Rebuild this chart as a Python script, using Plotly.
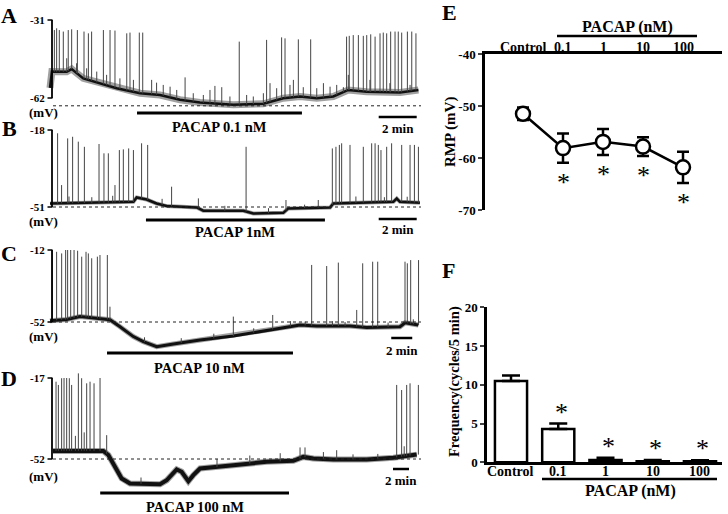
import numpy as np
import plotly.graph_objects as go

W, H = 728, 514
SERIF = "Liberation Serif"

# ---- current-clamp traces: time (min), membrane potential (mV) ----
# A: PACAP 0.1 nM
a_base_t = [0.0, 0.1, 0.88, 1.14, 1.75, 2.63, 3.51, 4.74, 5.79, 6.84, 7.89, 9.65, 11.23,
            12.28, 13.16, 14.04, 14.91, 15.70, 16.67, 18.42, 19.39]
a_base_v = [-58.0, -51.5, -51.6, -50.5, -54.2, -56.1, -58.1, -60.1, -60.8, -62.7, -63.8, -64.7,
            -64.3, -62.1, -61.4, -62.1, -61.4, -58.8, -59.5, -59.8, -58.8]
a_spike_t = [0.23, 0.35, 0.49, 0.70, 0.96, 1.14, 1.44, 1.79, 2.02, 2.19, 2.81, 3.16, 3.42, 4.04,
             4.21, 4.70, 4.88, 7.11, 8.68, 9.04, 9.96, 11.40, 12.19, 12.37, 13.07, 13.72, 15.61,
             15.75, 15.96, 16.23, 16.49, 16.67, 16.88, 17.11, 17.37, 17.54, 17.72, 17.93, 18.16,
             18.33, 18.51, 18.81, 19.04, 19.26]
a_spike_v = [-35.0, -34.3, -35.0, -35.6, -35.0, -34.7, -35.0, -35.6, -36.3, -35.6, -35.0, -35.0,
             -35.2, -36.3, -36.0, -36.0, -36.0, -53.8, -57.2, -57.7, -39.6, -38.9, -37.9, -38.3,
             -38.7, -38.7, -37.6, -37.3, -37.0, -37.0, -37.3, -37.0, -36.7, -37.6, -36.3, -36.0,
             -36.3, -35.6, -35.6, -35.6, -36.0, -35.6, -35.6, -36.3]
# small sub-threshold deflections
a_minor_t = [0.88, 1.40, 1.93, 2.46, 2.98, 3.68, 4.39, 5.35, 5.61, 5.96, 6.32, 6.67, 7.54, 8.07,
             8.42, 9.47, 10.35, 10.70, 11.23, 11.58, 11.93, 12.63, 12.81, 13.33, 14.04, 14.39,
             14.74, 15.09, 15.44, 15.70, 16.84, 17.89, 18.95]
a_minor_v = [-46.2, -48.2, -50.2, -51.5, -52.8, -54.2, -54.8, -54.8, -55.9, -56.8, -57.5, -58.8,
             -60.1, -60.8, -58.8, -61.4, -60.8, -61.4, -60.1, -56.1, -58.1, -56.8, -54.8, -57.7,
             -58.1, -56.1, -57.5, -56.8, -57.7, -52.8, -54.8, -56.1, -56.8]
a_scale = [-31, -62]
a_ref = -65.1
a_pacap = [4.58, 13.26]
a_bar = [17.3, 19.3]

# B: PACAP 1 nM
b_base_t = [0.0, 2.63, 4.39, 4.56, 5.09, 5.61, 6.14, 7.72, 8.07, 10.18, 10.70, 12.28, 12.54,
            14.74, 14.91, 18.07, 18.25, 18.42, 19.47]
b_base_v = [-49.5, -49.2, -48.8, -46.9, -47.8, -49.5, -50.6, -51.2, -52.6, -52.6, -53.8, -53.5,
            -51.6, -51.2, -49.5, -48.8, -47.4, -48.8, -49.2]
b_spike_t = [0.40, 0.61, 0.93, 1.19, 1.49, 1.81, 2.58, 2.84, 3.07, 3.42, 3.65, 3.86, 4.14, 4.39,
             4.82, 5.14, 6.40, 7.81, 10.32, 12.42, 14.12, 14.86, 15.05, 15.23, 15.35, 15.79,
             16.49, 16.93, 17.11, 17.28, 17.42, 17.72, 17.98, 18.51, 18.95, 19.18, 19.39]
b_spike_v = [-19.4, -41.6, -21.6, -20.9, -23.0, -25.2, -24.0, -28.0, -28.0, -41.6, -26.6, -26.3,
             -25.9, -26.6, -23.7, -24.4, -42.3, -47.3, -25.2, -48.0, -48.0, -25.9, -25.2, -24.4,
             -23.7, -24.4, -25.2, -23.7, -23.7, -24.4, -26.6, -25.2, -23.7, -24.4, -24.4, -24.4,
             -25.2]
b_minor_t = [1.0, 2.2, 3.3, 5.9, 9.2, 11.5, 13.4, 16.1, 17.6, 18.8]
b_minor_v = [-46.5, -46.8, -46.2, -47.5, -50.5, -51.5, -50.0, -46.5, -46.8, -46.6]
b_scale = [-18, -51]
b_ref = -51
b_pacap = [5.05, 14.47]
b_bar = [17.3, 19.3]

# C: PACAP 10 nM
c_base_t = [0.0, 1.59, 2.86, 4.44, 5.71, 6.67, 7.94, 8.89, 10.16, 11.75, 14.29, 17.46, 20.63,
            22.22, 23.81, 25.40, 28.57, 30.16, 33.33, 33.81, 35.08]
c_base_v = [-51.3, -50.6, -49.0, -49.9, -50.7, -54.6, -60.1, -62.9, -65.7, -64.2, -62.0, -59.8,
            -56.8, -55.0, -53.7, -54.2, -54.2, -55.0, -54.6, -52.4, -53.7]
c_spike_t = [0.22, 0.63, 1.11, 1.49, 1.68, 1.97, 2.29, 2.63, 3.02, 3.43, 3.65, 3.97, 4.51, 4.76,
             5.46, 5.71, 17.46, 21.21, 24.92, 26.35, 27.46, 29.21, 29.78, 30.73, 31.21, 33.81,
             34.03, 34.35, 35.10]
c_spike_v = [-12.4, -13.0, -13.9, -12.0, -12.0, -12.0, -12.0, -12.4, -15.7, -13.0, -13.9, -16.6,
             -15.7, -14.8, -14.8, -43.5, -49.0, -48.1, -20.3, -20.9, -19.0, -45.3, -19.4, -18.5,
             -18.5, -18.5, -19.4, -17.6, -17.6]
c_minor_t = [9.0, 12.5, 15.6, 19.4, 22.9, 24.3, 26.9, 28.1, 32.2, 34.6]
c_minor_v = [-60.5, -61.0, -58.5, -55.5, -51.5, -51.8, -51.5, -52.0, -52.3, -50.5]
c_scale = [-12, -52]
c_ref = -52
c_pacap = [5.43, 23.14]
c_bar = [32.5, 34.5]

# D: PACAP 100 nM
d_base_t = [0.0, 6.29, 6.92, 7.75, 8.58, 9.63, 13.38, 14.21, 15.46, 16.08, 16.92, 17.54, 18.38,
            22.54, 26.71, 30.04, 31.29, 32.54, 35.04, 39.21, 42.54, 45.46]
d_base_v = [-48.5, -48.5, -50.3, -55.4, -60.4, -62.6, -62.9, -61.2, -56.5, -57.5, -61.6, -59.0,
            -56.1, -54.7, -53.2, -52.8, -51.1, -51.8, -52.2, -52.2, -51.5, -50.1]
d_spike_t = [0.38, 0.67, 1.08, 1.38, 1.71, 2.04, 2.33, 3.17, 3.58, 4.21, 4.63, 5.13, 5.88, 6.71,
             30.88, 31.50, 35.46, 42.96, 43.58, 44.21, 44.63, 45.67]
d_spike_v = [-18.6, -20.0, -17.1, -17.0, -17.0, -17.1, -20.0, -15.0, -17.1, -19.3, -18.6, -19.3,
             -17.0, -41.7, -47.0, -47.0, -48.2, -20.0, -22.2, -20.0, -19.3, -20.0]
d_minor_t = [2.8, 3.9, 11.0, 20.5, 24.6, 28.4, 33.8, 37.5, 40.6, 43.9]
d_minor_v = [-42.0, -40.5, -60.0, -52.0, -50.5, -49.5, -49.0, -50.0, -49.8, -46.5]
d_scale = [-17, -52]
d_ref = -52
d_pacap = [5.9, 29.5]
d_bar = [42.5, 44.5]

# E / F summary data
doses = ["Control", "0.1", "1", "10", "100"]
rmp_mean = [-51.5, -58.1, -56.9, -57.8, -61.8]
rmp_sem = [1.2, 2.8, 2.5, 1.8, 3.0]
freq_mean = [10.5, 4.3, 0.3, 0.15, 0.15]
freq_sem = [0.7, 0.7, 0.3, 0.15, 0.1]


def px(x):
    return x / W


def py(y):
    return 1 - y / H


def b(s):
    return f"<b>{s}</b>"


def note(text, x, y, size, xref="paper", yref="paper", **kw):
    d = dict(text=b(text), x=x, y=y, xref=xref, yref=yref, showarrow=False,
             xanchor="center", yanchor="middle", font=dict(size=size))
    d.update(kw)
    return d


panels = [
    dict(letter="A", label="PACAP 0.1 nM", t=a_base_t, v=a_base_v, st=a_spike_t + a_minor_t,
         sv=a_spike_v + a_minor_v, scale=a_scale, ref=a_ref, pacap=a_pacap, bar=a_bar, x0=50,
         ppm=19, ys=(20, 98), dom=(8, 132), lw=2.5, band=7, letter_y=15, mv_y=112, pacap_y=113,
         pacap_ly=127, bar_y=117, bar_ly=128),
    dict(letter="B", label="PACAP 1nM", t=b_base_t, v=b_base_v, st=b_spike_t + b_minor_t,
         sv=b_spike_v + b_minor_v, scale=b_scale, ref=b_ref, pacap=b_pacap, bar=b_bar, x0=50,
         ppm=19, ys=(130, 207), dom=(118, 237), lw=2.5, band=4, letter_y=128, mv_y=221,
         pacap_y=220, pacap_ly=232, bar_y=219, bar_ly=230),
    dict(letter="C", label="PACAP 10 nM", t=c_base_t, v=c_base_v, st=c_spike_t + c_minor_t,
         sv=c_spike_v + c_minor_v, scale=c_scale, ref=c_ref, pacap=c_pacap, bar=c_bar, x0=50,
         ppm=10.5, ys=(250, 322), dom=(238, 356), lw=3, band=5, letter_y=253, mv_y=336,
         pacap_y=353, pacap_ly=368, bar_y=338, bar_ly=350),
    dict(letter="D", label="PACAP 100 nM", t=d_base_t, v=d_base_v, st=d_spike_t + d_minor_t,
         sv=d_spike_v + d_minor_v, scale=d_scale, ref=d_ref, pacap=d_pacap, bar=d_bar, x0=53,
         ppm=8, ys=(378, 459), dom=(366, 492), lw=4, band=6, letter_y=378, mv_y=476,
         pacap_y=493, pacap_ly=507, bar_y=469, bar_ly=480),
]

fig = go.Figure()
shapes, annots = [], []
lay = {}

for i, p in enumerate(panels, start=1):
    xa = "x" if i == 1 else f"x{i}"
    ya = "y" if i == 1 else f"y{i}"
    k = (p["ys"][1] - p["ys"][0]) / (p["scale"][0] - p["scale"][1])  # px per mV

    def mv(y_px, p=p, k=k):
        return p["scale"][0] - (y_px - p["ys"][0]) / k

    # noise band + trace core
    fig.add_trace(go.Scatter(x=p["t"], y=p["v"], mode="lines", xaxis=xa, yaxis=ya, opacity=0.55,
                             line=dict(color="#555", width=p["band"]), hoverinfo="skip"))
    fig.add_trace(go.Scatter(x=p["t"], y=p["v"], mode="lines", xaxis=xa, yaxis=ya,
                             line=dict(color="#111", width=p["lw"]), hoverinfo="skip"))
    base = np.interp(p["st"], p["t"], p["v"])
    sx, sy = [], []
    for t, b0, v in zip(p["st"], base, p["sv"]):
        sx += [t, t, None]
        sy += [b0, v, None]
    fig.add_trace(go.Scatter(x=sx, y=sy, mode="lines", xaxis=xa, yaxis=ya,
                             line=dict(color="#444", width=1), hoverinfo="skip"))

    lay["xaxis" if i == 1 else f"xaxis{i}"] = dict(
        domain=[px(46), px(424)], range=[(46 - p["x0"]) / p["ppm"], (424 - p["x0"]) / p["ppm"]],
        visible=False, anchor=ya)
    lay["yaxis" if i == 1 else f"yaxis{i}"] = dict(
        domain=[py(p["dom"][1]), py(p["dom"][0])], range=[mv(p["dom"][1]), mv(p["dom"][0])],
        visible=False, anchor=xa)

    # vertical scale bar with end ticks
    shapes.append(dict(type="line", xref="paper", yref=ya, x0=px(52), x1=px(52),
                       y0=p["scale"][0], y1=p["scale"][1], line=dict(color="black", width=1.8)))
    for v in p["scale"]:
        shapes.append(dict(type="line", xref="paper", yref=ya, x0=px(47.5), x1=px(52.5),
                           y0=v, y1=v, line=dict(color="black", width=1.5)))
        annots.append(note(v, px(46.5), v, 11, yref=ya, xanchor="right"))
    annots.append(note("(mV)", px(43), py(p["mv_y"]), 13))
    # dotted reference line
    shapes.append(dict(type="line", xref="paper", yref=ya, x0=px(53), x1=px(421), y0=p["ref"],
                       y1=p["ref"], line=dict(color="#222", width=1, dash="dot")))
    # drug application bar
    shapes.append(dict(type="line", xref=xa, yref="paper", x0=p["pacap"][0], x1=p["pacap"][1],
                       y0=py(p["pacap_y"]), y1=py(p["pacap_y"]), line=dict(color="black", width=3)))
    annots.append(note(p["label"], sum(p["pacap"]) / 2, py(p["pacap_ly"]), 14.5, xref=xa))
    # time scale bar
    shapes.append(dict(type="line", xref=xa, yref="paper", x0=p["bar"][0], x1=p["bar"][1],
                       y0=py(p["bar_y"]), y1=py(p["bar_y"]), line=dict(color="black", width=2.5)))
    annots.append(note("2 min", sum(p["bar"]) / 2, py(p["bar_ly"]), 13, xref=xa))
    annots.append(note(p["letter"], px(9), py(p["letter_y"]), 22))

# ---- E: RMP vs dose ----
xs = list(range(len(doses)))
fig.add_trace(go.Scatter(
    x=xs, y=rmp_mean, mode="lines+markers", xaxis="x5", yaxis="y5",
    line=dict(color="black", width=2.5),
    marker=dict(symbol="circle", size=14, color="white", line=dict(color="black", width=2.5)),
    error_y=dict(type="data", array=rmp_sem, width=6, thickness=2.5, color="black"),
    hoverinfo="skip"))
lay["xaxis5"] = dict(domain=[px(485), px(722)], range=[-0.95, 4.975], anchor="y5", side="top",
                     showticklabels=False, ticks="", showline=True, linewidth=2.5,
                     linecolor="black", showgrid=False, zeroline=False)
lay["yaxis5"] = dict(domain=[py(210), py(54)], range=[-70, -40], anchor="x5",
                     tickvals=[-40, -50, -60, -70], ticktext=[b(v) for v in [-40, -50, -60, -70]],
                     ticks="outside", ticklen=4, tickwidth=2, showline=True, linewidth=2.5,
                     linecolor="black", showgrid=False, zeroline=False, tickfont=dict(size=13))
for x, d in zip(xs, doses):
    annots.append(note(d, x, py(47), 14, xref="x5"))
for x, m, s in zip(xs[1:], rmp_mean[1:], rmp_sem[1:]):
    annots.append(dict(text="*", xref="x5", yref="y5", x=x, y=m - s, xanchor="center",
                       yanchor="top", yshift=-3, showarrow=False, font=dict(size=26)))
annots.append(note("PACAP (nM)", px(627), py(27), 16))
shapes.append(dict(type="line", xref="paper", yref="paper", x0=px(557), x1=px(697), y0=py(36),
                   y1=py(36), line=dict(color="black", width=2.5)))
annots.append(note("RMP (mV)", px(450), py(132), 15, textangle=-90))
annots.append(note("E", px(449), py(12), 22))

# ---- F: firing frequency ----
fig.add_trace(go.Bar(
    x=xs, y=freq_mean, width=0.68, xaxis="x6", yaxis="y6",
    marker=dict(color="white", line=dict(color="black", width=2.5)),
    error_y=dict(type="data", symmetric=False, array=freq_sem, arrayminus=[0] * len(xs),
                 width=9, thickness=2.5, color="black"),
    hoverinfo="skip"))
lay["xaxis6"] = dict(domain=[px(487), px(722)], range=[-0.508, 4.466], anchor="y6",
                     showticklabels=False, ticks="", showline=True, linewidth=2.5,
                     linecolor="black", showgrid=False, zeroline=False)
lay["yaxis6"] = dict(domain=[py(462.3), py(307.3)], range=[0, 20], anchor="x6",
                     tickvals=[0, 5, 10, 15, 20], ticktext=[b(v) for v in [0, 5, 10, 15, 20]],
                     ticks="outside", ticklen=4, tickwidth=2, showline=True, linewidth=2.5,
                     linecolor="black", showgrid=False, zeroline=False, tickfont=dict(size=13))
for x, d in zip(xs, doses):
    annots.append(note(d, x, py(471), 14, xref="x6"))
for x, m, s in zip(xs[1:], freq_mean[1:], freq_sem[1:]):
    annots.append(dict(text="*", xref="x6", yref="y6", x=x, y=m + s, xanchor="center",
                       yanchor="bottom", yshift=-5, xshift=3, showarrow=False, font=dict(size=26)))
shapes.append(dict(type="line", xref="paper", yref="paper", x0=px(542), x1=px(717), y0=py(479),
                   y1=py(479), line=dict(color="black", width=2.5)))
annots.append(note("PACAP (nM)", px(630), py(491), 16))
annots.append(note("Frequency(cycles/5 min)", px(454), py(382), 14.5, textangle=-90))
annots.append(note("F", px(448), py(270), 22))

fig.update_layout(
    width=W, height=H, margin=dict(l=0, r=0, t=0, b=0, autoexpand=False),
    template="none", plot_bgcolor="white", paper_bgcolor="white",
    font=dict(family=SERIF, color="black"),
    showlegend=False, shapes=shapes, annotations=annots, **lay)

fig.write_html("out.html", config={"displayModeBar": False},
               post_script="document.body.style.margin='0px';")
